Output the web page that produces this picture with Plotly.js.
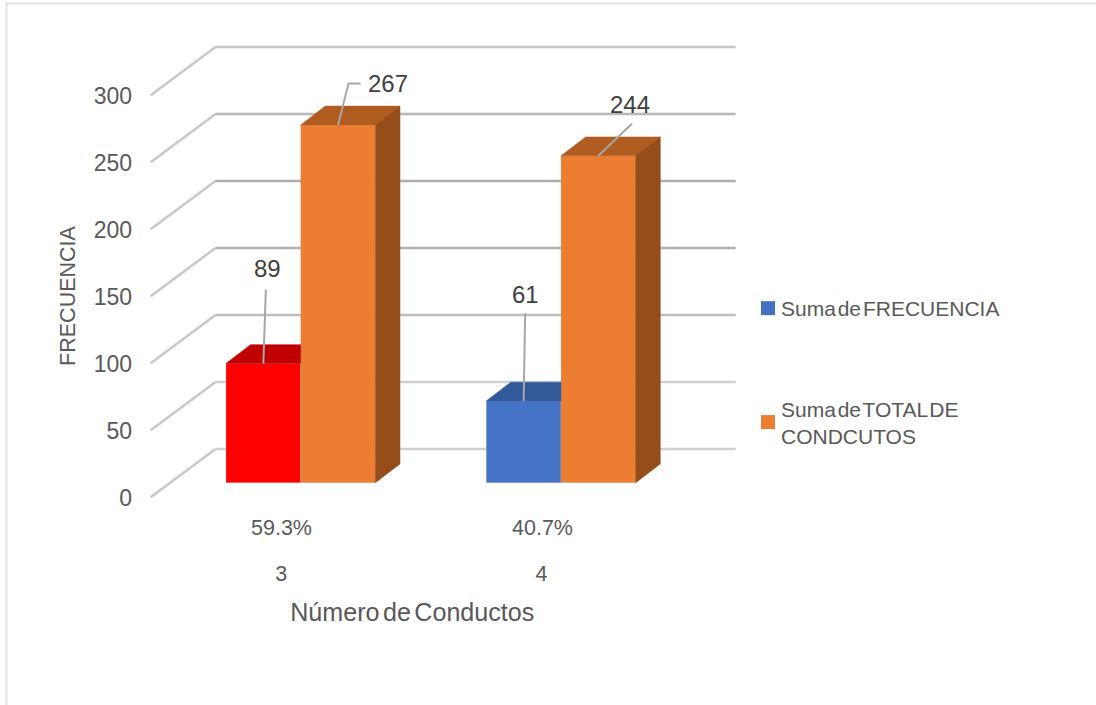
<!DOCTYPE html>
<html>
<head>
<meta charset="utf-8">
<script src="https://cdn.plot.ly/plotly-3.0.1.min.js"></script>
<style>
  html, body { margin: 0; padding: 0; background: #fff; }
  #chart .legendtext { word-spacing: -4px; }
  #chart .x2title, #chart .y2title { word-spacing: -3.5px; }
  #chart .legendsymbols { transform: translateX(7px); }
</style>
</head>
<body>
<div id="chart" style="width:1096px;height:705px"></div>
<script>
// Series read per category
const categories = ['3', '4'];
const frecuencia = [89, 61];
const totalConductos = [267, 244];
const shares = ['59.3%', '40.7%'];
const yTicks = [0, 50, 100, 150, 200, 250, 300];
const gridColors = ['#D0D0D0', '#D0D0D0', '#BEBEBE', '#B0B0B0', '#AEAEAE', '#B8B8B8', '#C6C6C6'];
const frecuenciaColors = ['#FF0000', '#4472C4'];
const frecuenciaTopColors = ['#C00000', '#325A9A'];
const nameFrecuencia = 'Suma de FRECUENCIA';
const nameTotal = 'Suma de TOTAL DE<br>CONDCUTOS';

// Page geometry of the pseudo-3D column chart
const W = 1096, H = 705;
const plotL = 88, plotR = 736.5, plotT = 34, plotB = 558;
const pxPerValue = 1.34, pxPerCategory = 260.3;
const firstCenter = 300.7, baseY = 482.7, frontBaseY = 497.3, backBaseY = 449, tickBaseY = 498;
const barWidthCat = 74.7 / pxPerCategory;
const depthX = 24.6 / pxPerCategory, depthY = 18.8 / pxPerValue;
const orange = '#ED7D31', orangeTop = '#B05B20', orangeSide = '#954D19';
const edge = 'rgba(190,190,190,0.3)';

const catFromPx = p => (p - firstCenter) / pxPerCategory;
const valRange = zeroY => [(zeroY - plotB) / pxPerValue, (zeroY - plotT) / pxPerValue];
const xRange = [catFromPx(plotL), catFromPx(plotR)];
const labelShift = -19.5;

const traces = [];

// Front faces are ordinary grouped bars
traces.push({
  type: 'bar', x: [0, 1], y: frecuencia, showlegend: false, hoverinfo: 'skip',
  marker: { color: frecuenciaColors, line: { color: edge, width: 1 } }
});
traces.push({
  type: 'bar', x: [0, 1], y: totalConductos, showlegend: false, hoverinfo: 'skip',
  marker: { color: orange, line: { color: edge, width: 1 } }
});

function face(xs, ys, color) {
  traces.push({
    type: 'scatter', mode: 'lines', x: xs.concat(xs[0]), y: ys.concat(ys[0]),
    fill: 'toself', fillcolor: color, line: { color: color, width: 0.5 },
    showlegend: false, hoverinfo: 'skip'
  });
}

categories.forEach((c, i) => {
  // Shorter column: only the part of its top not hidden by the taller neighbour
  const v = frecuencia[i], L = i - barWidthCat, R = i;
  face([L, R, R, L + depthX], [v, v, v + depthY, v + depthY], frecuenciaTopColors[i]);
  // Taller column: top and right side
  const t = totalConductos[i], L2 = i, R2 = i + barWidthCat;
  face([L2, R2, R2 + depthX, L2 + depthX], [t, t, t + depthY, t + depthY], orangeTop);
  face([R2, R2 + depthX, R2 + depthX, R2], [0, depthY, t + depthY, t], orangeSide);
});

// Leader lines and value labels, offsets in page pixels from the top of each column
const callouts = [
  { x: -barWidthCat / 2, v: frecuencia[0], path: [[0, 0], [2.5, 74]], label: [4, 95] },
  { x: barWidthCat / 2, v: totalConductos[0], path: [[0, 0], [10.5, 41.5], [22.5, 41.5]], label: [50, 41.5] },
  { x: 1 - barWidthCat / 2, v: frecuencia[1], path: [[0, 0], [1.5, 88]], label: [1.5, 106] },
  { x: 1 + barWidthCat / 2, v: totalConductos[1], path: [[0, 0], [33.5, 32]], label: [32, 51] }
];
const annotations = [];
callouts.forEach(c => {
  traces.push({
    type: 'scatter', mode: 'lines',
    x: c.path.map(p => c.x + p[0] / pxPerCategory),
    y: c.path.map(p => c.v + p[1] / pxPerValue),
    line: { color: '#A6A6A6', width: 2 }, showlegend: false, hoverinfo: 'skip'
  });
  annotations.push({
    xref: 'x', yref: 'y', x: c.x, y: c.v, xshift: c.label[0], yshift: c.label[1],
    text: String(c.v), showarrow: false, xanchor: 'center', yanchor: 'middle',
    font: { size: 24, color: '#404040' }
  });
});

// Percentage line above the category labels
shares.forEach((s, i) => {
  annotations.push({
    xref: 'x', yref: 'paper', x: i, y: 1 - 528 / H, xshift: labelShift + 0.7,
    text: s, showarrow: false, xanchor: 'center', yanchor: 'middle',
    font: { size: 21.5, color: '#595959' }
  });
});

// Legend entries, carried by empty traces on the front-plane axes
[[nameFrecuencia, '#4472C4', 'a'], [nameTotal, orange, 'b']].forEach(e => {
  traces.push({
    type: 'scatter', mode: 'markers', x: [null], y: [null], xaxis: 'x2', yaxis: 'y2',
    name: e[0], legendgroup: e[2],
    marker: { symbol: 'square', size: 14, color: e[1] }, hoverinfo: 'skip'
  });
});

// Wall and back-plane gridlines for each tick value
const wallFront = catFromPx(150.7), wallBack = catFromPx(215.5), wallRight = catFromPx(735.7);
const frontOff = (baseY - frontBaseY) / pxPerValue, backOff = (baseY - backBaseY) / pxPerValue;
const wallShapes = yTicks.map(v => ({
  type: 'line', xref: 'x', yref: 'y', layer: 'below',
  x0: wallFront, y0: v + frontOff, x1: wallBack, y1: v + backOff,
  line: { color: '#C8C8C8', width: 2.6 }
}));
const backShapes = yTicks.map((v, i) => ({
  type: 'line', xref: 'x', yref: 'y', layer: 'below',
  x0: wallBack, y0: v + backOff, x1: wallRight, y1: v + backOff,
  line: { color: gridColors[i], width: 2.6 }
}));
const frame = [
  { type: 'line', xref: 'paper', yref: 'paper', x0: 6 / W, x1: 1, y0: 1 - 3.5 / H, y1: 1 - 3.5 / H, line: { color: '#E2E2E2', width: 2 } },
  { type: 'line', xref: 'paper', yref: 'paper', x0: 6.5 / W, x1: 6.5 / W, y0: 0, y1: 1 - 3 / H, line: { color: '#E2E2E2', width: 2 } }
];

const layout = {
  width: W, height: H, autosize: false,
  margin: { l: 0, r: 0, t: 0, b: 0 },
  paper_bgcolor: '#fff', plot_bgcolor: 'rgba(0,0,0,0)',
  font: { family: '"Liberation Sans", Arial, sans-serif', color: '#595959' },
  barmode: 'group', bargap: 1 - 2 * barWidthCat, bargroupgap: 0,
  xaxis: {
    domain: [plotL / W, plotR / W], range: xRange, visible: false, fixedrange: true
  },
  yaxis: {
    domain: [1 - plotB / H, 1 - plotT / H], range: valRange(baseY), visible: false, fixedrange: true
  },
  // Front-plane axes carry the tick labels and the titles
  xaxis2: {
    overlaying: 'x', anchor: 'y2', side: 'bottom',
    domain: [plotL / W, plotR / W],
    range: xRange.map(r => r - labelShift / pxPerCategory),
    tickmode: 'array', tickvals: [0, 1], ticktext: categories,
    tickfont: { size: 21.5, color: '#595959' }, ticks: '', showgrid: false, zeroline: false, showline: false,
    title: { text: 'Número de Conductos', font: { size: 25.1, color: '#595959' }, standoff: 18 },
    automargin: false, fixedrange: true
  },
  yaxis2: {
    overlaying: 'y', anchor: 'free', position: 132 / W, side: 'left',
    domain: [1 - plotB / H, 1 - plotT / H], range: valRange(tickBaseY),
    tickmode: 'array', tickvals: yTicks, ticktext: yTicks.map(String),
    tickfont: { size: 23, color: '#595959' }, ticks: '', showgrid: false, zeroline: false, showline: false,
    title: { text: 'FRECUENCIA', font: { size: 21.5, color: '#595959' }, standoff: 11 },
    automargin: false, fixedrange: true
  },
  legend: {
    x: 741 / W, y: 1 - 288 / H, xanchor: 'left', yanchor: 'top',
    font: { size: 21, color: '#595959' }, tracegroupgap: 70,
    bgcolor: 'rgba(0,0,0,0)', itemclick: false, itemdoubleclick: false
  },
  annotations: annotations,
  shapes: frame.concat(wallShapes, backShapes)
};

Plotly.newPlot('chart', traces, layout, { displayModeBar: false, staticPlot: true });
</script>
</body>
</html>
